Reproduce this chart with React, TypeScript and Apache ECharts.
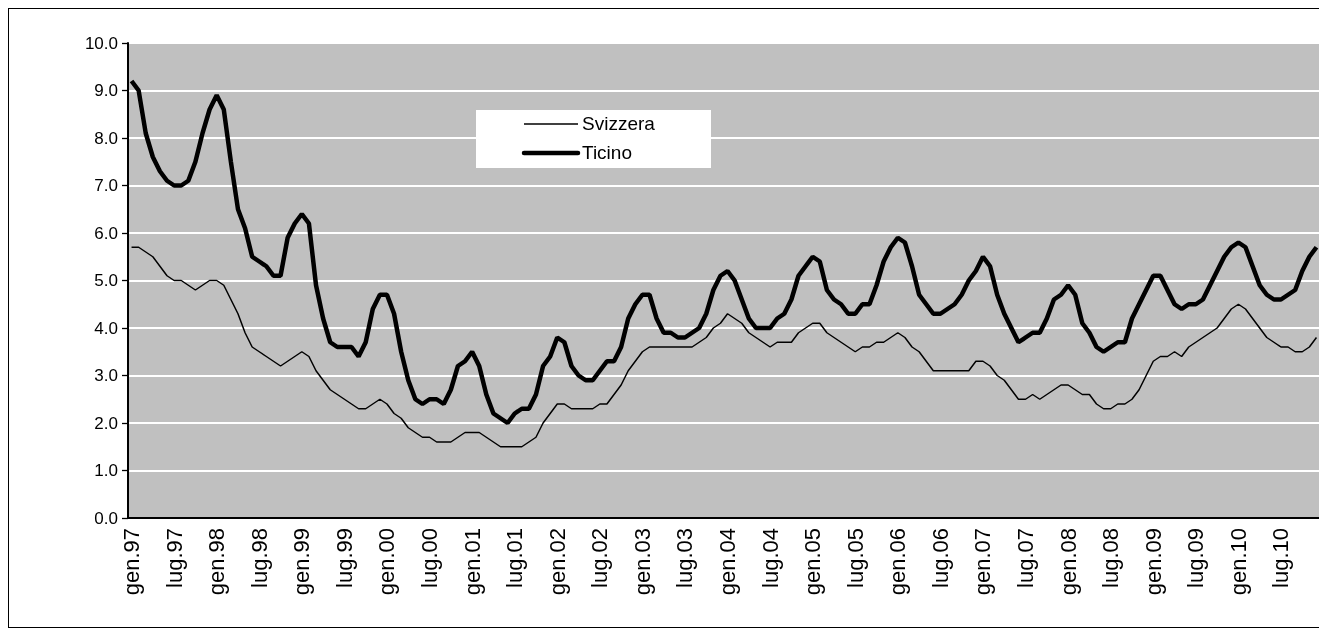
import React, { useEffect, useRef } from "react";
import * as echarts from "echarts";

const monthNames = ["gen", "feb", "mar", "apr", "mag", "giu", "lug", "ago", "set", "ott", "nov", "dic"];
const years = ["97", "98", "99", "00", "01", "02", "03", "04", "05", "06", "07", "08", "09", "10"];
const categories: string[] = [];
years.forEach((y) => monthNames.forEach((m) => categories.push(m + "." + y)));

const seriesNames = ["Svizzera", "Ticino"];

const svizzera = [
  5.7, 5.7, 5.6, 5.5, 5.3, 5.1, 5.0, 5.0, 4.9, 4.8, 4.9, 5.0,
  5.0, 4.9, 4.6, 4.3, 3.9, 3.6, 3.5, 3.4, 3.3, 3.2, 3.3, 3.4,
  3.5, 3.4, 3.1, 2.9, 2.7, 2.6, 2.5, 2.4, 2.3, 2.3, 2.4, 2.5,
  2.4, 2.2, 2.1, 1.9, 1.8, 1.7, 1.7, 1.6, 1.6, 1.6, 1.7, 1.8,
  1.8, 1.8, 1.7, 1.6, 1.5, 1.5, 1.5, 1.5, 1.6, 1.7, 2.0, 2.2,
  2.4, 2.4, 2.3, 2.3, 2.3, 2.3, 2.4, 2.4, 2.6, 2.8, 3.1, 3.3,
  3.5, 3.6, 3.6, 3.6, 3.6, 3.6, 3.6, 3.6, 3.7, 3.8, 4.0, 4.1,
  4.3, 4.2, 4.1, 3.9, 3.8, 3.7, 3.6, 3.7, 3.7, 3.7, 3.9, 4.0,
  4.1, 4.1, 3.9, 3.8, 3.7, 3.6, 3.5, 3.6, 3.6, 3.7, 3.7, 3.8,
  3.9, 3.8, 3.6, 3.5, 3.3, 3.1, 3.1, 3.1, 3.1, 3.1, 3.1, 3.3,
  3.3, 3.2, 3.0, 2.9, 2.7, 2.5, 2.5, 2.6, 2.5, 2.6, 2.7, 2.8,
  2.8, 2.7, 2.6, 2.6, 2.4, 2.3, 2.3, 2.4, 2.4, 2.5, 2.7, 3.0,
  3.3, 3.4, 3.4, 3.5, 3.4, 3.6, 3.7, 3.8, 3.9, 4.0, 4.2, 4.4,
  4.5, 4.4, 4.2, 4.0, 3.8, 3.7, 3.6, 3.6, 3.5, 3.5, 3.6, 3.8,
];

const ticino = [
  9.2, 9.0, 8.1, 7.6, 7.3, 7.1, 7.0, 7.0, 7.1, 7.5, 8.1, 8.6,
  8.9, 8.6, 7.5, 6.5, 6.1, 5.5, 5.4, 5.3, 5.1, 5.1, 5.9, 6.2,
  6.4, 6.2, 4.9, 4.2, 3.7, 3.6, 3.6, 3.6, 3.4, 3.7, 4.4, 4.7,
  4.7, 4.3, 3.5, 2.9, 2.5, 2.4, 2.5, 2.5, 2.4, 2.7, 3.2, 3.3,
  3.5, 3.2, 2.6, 2.2, 2.1, 2.0, 2.2, 2.3, 2.3, 2.6, 3.2, 3.4,
  3.8, 3.7, 3.2, 3.0, 2.9, 2.9, 3.1, 3.3, 3.3, 3.6, 4.2, 4.5,
  4.7, 4.7, 4.2, 3.9, 3.9, 3.8, 3.8, 3.9, 4.0, 4.3, 4.8, 5.1,
  5.2, 5.0, 4.6, 4.2, 4.0, 4.0, 4.0, 4.2, 4.3, 4.6, 5.1, 5.3,
  5.5, 5.4, 4.8, 4.6, 4.5, 4.3, 4.3, 4.5, 4.5, 4.9, 5.4, 5.7,
  5.9, 5.8, 5.3, 4.7, 4.5, 4.3, 4.3, 4.4, 4.5, 4.7, 5.0, 5.2,
  5.5, 5.3, 4.7, 4.3, 4.0, 3.7, 3.8, 3.9, 3.9, 4.2, 4.6, 4.7,
  4.9, 4.7, 4.1, 3.9, 3.6, 3.5, 3.6, 3.7, 3.7, 4.2, 4.5, 4.8,
  5.1, 5.1, 4.8, 4.5, 4.4, 4.5, 4.5, 4.6, 4.9, 5.2, 5.5, 5.7,
  5.8, 5.7, 5.3, 4.9, 4.7, 4.6, 4.6, 4.7, 4.8, 5.2, 5.5, 5.7,
];

const FONT = "'Liberation Sans', Arial, sans-serif";

export default function App() {
  const ref = useRef<HTMLDivElement>(null);
  useEffect(() => {
    document.body.style.overflow = "hidden";
    const chart = echarts.init(ref.current!, undefined, { renderer: "svg" });
    chart.setOption({
      animation: false,
      textStyle: { fontFamily: FONT },
      grid: {
        left: 119,
        top: 34,
        width: 1192,
        height: 475,
        show: true,
        backgroundColor: "#c0c0c0",
        borderWidth: 0,
      },
      graphic: [
        {
          type: "rect",
          left: 467,
          top: 101,
          shape: { width: 235, height: 58 },
          style: { fill: "#ffffff" },
          z: 5,
        },
        {
          type: "line",
          shape: { x1: 515, y1: 115, x2: 569, y2: 115 },
          style: { stroke: "#000", lineWidth: 1.5 },
          z: 6,
        },
        {
          type: "line",
          shape: { x1: 515, y1: 144, x2: 569, y2: 144 },
          style: { stroke: "#000", lineWidth: 4.5, lineCap: "round" },
          z: 6,
        },
        {
          type: "text",
          left: 573,
          top: 105,
          style: { text: seriesNames[0], fontSize: 19, fill: "#000", fontFamily: FONT },
          z: 6,
        },
        {
          type: "text",
          left: 573,
          top: 134,
          style: { text: seriesNames[1], fontSize: 19, fill: "#000", fontFamily: FONT },
          z: 6,
        },
      ],
      xAxis: {
        type: "category",
        data: categories,
        boundaryGap: true,
        axisLine: { lineStyle: { color: "#000", width: 2 } },
        axisTick: { interval: 0, length: 6, lineStyle: { color: "#000", width: 1.3 } },
        axisLabel: {
          interval: 5,
          rotate: 90,
          margin: 10,
          fontSize: 22,
          color: "#000",
          fontFamily: FONT,
        },
        splitLine: { show: false },
      },
      yAxis: {
        type: "value",
        min: 0,
        max: 10,
        interval: 1,
        axisLine: { show: true, lineStyle: { color: "#000", width: 2 } },
        axisTick: { show: true, length: 6, lineStyle: { color: "#000", width: 1.3 } },
        axisLabel: {
          formatter: (v: number) => v.toFixed(1),
          fontSize: 17,
          color: "#000",
          margin: 10,
          fontFamily: FONT,
        },
        splitLine: { lineStyle: { color: "#ffffff", width: 2 } },
      },
      series: [
        {
          name: seriesNames[0],
          type: "line",
          data: svizzera,
          symbol: "none",
          lineStyle: { color: "#000", width: 1.5 },
          itemStyle: { color: "#000" },
        },
        {
          name: seriesNames[1],
          type: "line",
          data: ticino,
          symbol: "none",
          lineStyle: { color: "#000", width: 4.5 },
          itemStyle: { color: "#000" },
        },
      ],
    });
    return () => chart.dispose();
  }, []);
  return (
    <div
      style={{
        position: "fixed",
        left: 8,
        top: 8,
        width: 1320,
        height: 620,
        boxSizing: "border-box",
        borderLeft: "1px solid #000",
        borderTop: "1px solid #000",
        borderBottom: "1px solid #000",
      }}
    >
      <div ref={ref} style={{ width: 1319, height: 618 }} />
    </div>
  );
}
